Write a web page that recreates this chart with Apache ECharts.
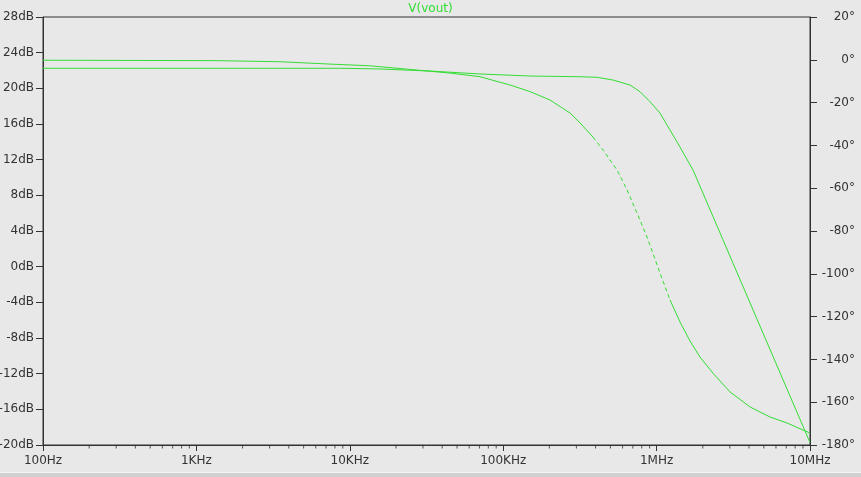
<!DOCTYPE html>
<html>
<head>
<meta charset="utf-8">
<script src="https://cdn.jsdelivr.net/npm/echarts@6/dist/echarts.min.js"></script>
<style>
html,body{margin:0;padding:0;background:#e8e8e8;}
#chart{width:861px;height:477px;}
#edge{position:absolute;left:0;top:472px;width:861px;height:5px;border-top:1px solid #f4f4f4;background:#d0d0d0;}
</style>
</head>
<body>
<div id="chart"></div>
<div id="edge"></div>
<script>
// ---- data ----
const freqMag = [100, 8630, 15700, 33400, 70600, 150000, 317000, 408000, 520000, 671000, 780000, 906000,
  1052000, 1222000, 1420000, 1727000, 2007000, 2332000, 2710000, 3148000, 3658000, 4250000, 4938000,
  5738000, 6668000, 7748000, 9003000, 10000000];
const magDb = [22.25, 22.25, 22.17, 21.94, 21.61, 21.38, 21.30, 21.24, 20.93, 20.37, 19.62, 18.50,
  17.23, 15.33, 13.42, 10.84, 8.23, 5.62, 3.00, 0.39, -2.22, -4.84, -7.45,
  -10.06, -12.68, -15.29, -17.90, -19.73];

const freqPhase = [100, 1360, 3510, 7430, 13500, 24700, 45000, 70600, 111000, 150000, 202000, 273000,
  317000, 385000, 448000, 552000, 642000, 745000, 866000, 1052000, 1223000, 1421000, 1651000, 1918000,
  2330000, 3010000, 4060000, 5480000, 7080000, 9000000, 10000000];
const phaseDeg = [-0.2, -0.4, -0.9, -2.0, -2.8, -4.5, -6.2, -7.9, -11.8, -14.9, -18.8, -24.9,
  -29.5, -36.1, -42.2, -51.5, -60.8, -71.6, -82.8, -99.6, -112.2, -122.5, -131.4, -138.9,
  -146.4, -155.2, -162.2, -166.9, -169.7, -173.0, -174.4];

const xTickLabels = ['100Hz', '1KHz', '10KHz', '100KHz', '1MHz', '10MHz'];
const minorTickFreqs = [];
[100, 1000, 10000, 100000, 1000000].forEach(function (d) {
  [2, 3, 4, 5, 6, 7, 8, 9].forEach(function (m) { minorTickFreqs.push(d * m); });
});
// phase drawn dashed between these frequencies (as in the reference)
const dashFrom = 385000, dashTo = 1223000;

// ---- chart ----
const green = '#33dd33';
const txt = '#333333';
const font = 'DejaVu Sans';

const phaseSolid = freqPhase.map(function (f, i) {
  return (f > dashFrom && f < dashTo) ? [f, '-'] : [f, phaseDeg[i]];
});
const phaseDashed = [];
freqPhase.forEach(function (f, i) {
  if (f >= dashFrom && f <= dashTo) phaseDashed.push([f, phaseDeg[i]]);
});

const chart = echarts.init(document.getElementById('chart'), null, {renderer: 'canvas'});
chart.setOption({
  backgroundColor: '#e8e8e8',
  animation: false,
  textStyle: {fontFamily: font},
  title: {
    text: 'V(vout)', left: 'center', top: -2,
    textStyle: {color: green, fontSize: 12, fontWeight: 'normal', fontFamily: font}
  },
  grid: {left: 43, right: 51, top: 17, bottom: 32, show: true, borderColor: '#333', borderWidth: 1,
    backgroundColor: 'transparent', containLabel: false, outerBoundsMode: 'none'},
  xAxis: {
    type: 'log', logBase: 10, min: 100, max: 10000000,
    axisLine: {show: true, onZero: false, lineStyle: {color: '#333', width: 1}},
    axisTick: {show: true, length: 6, inside: false, lineStyle: {color: '#333'}},
    axisLabel: {
      color: txt, fontSize: 12, fontFamily: font, margin: 10,
      formatter: function (v) { return xTickLabels[Math.round(Math.log10(v)) - 2]; }
    },
    splitLine: {show: false}
  },
  yAxis: [{
    type: 'value', min: -20, max: 28, interval: 4, position: 'left',
    axisLine: {show: true, lineStyle: {color: '#333'}},
    axisTick: {show: true, length: 7, lineStyle: {color: '#333'}},
    axisLabel: {color: txt, fontSize: 12, fontFamily: font, margin: 9, formatter: '{value}dB'},
    splitLine: {show: false}
  }, {
    type: 'value', min: -180, max: 20, interval: 20, position: 'right',
    axisLine: {show: true, lineStyle: {color: '#333'}},
    axisTick: {show: true, length: 7, lineStyle: {color: '#333'}},
    axisLabel: {color: txt, fontSize: 12, fontFamily: font, margin: 45, align: 'right', formatter: '{value}°'},
    splitLine: {show: false}
  }],
  series: [{
    name: 'minorTicks', type: 'scatter', xAxisIndex: 0, yAxisIndex: 0,
    data: minorTickFreqs.map(function (f) { return [f, -20]; }),
    symbol: 'rect', symbolSize: [1, 3], symbolOffset: [0, 2],
    itemStyle: {color: '#333'}, clip: false, silent: true, z: 1
  }, {
    name: 'mag', type: 'line', yAxisIndex: 0,
    data: freqMag.map(function (f, i) { return [f, magDb[i]]; }),
    showSymbol: false, smooth: false, lineStyle: {color: green, width: 1}, clip: false
  }, {
    name: 'phase', type: 'line', yAxisIndex: 1, data: phaseSolid, connectNulls: false,
    showSymbol: false, smooth: false, lineStyle: {color: green, width: 1}, clip: false
  }, {
    name: 'phaseDash', type: 'line', yAxisIndex: 1, data: phaseDashed,
    showSymbol: false, smooth: false, lineStyle: {color: green, width: 1, type: [4, 3]}, clip: false
  }]
});
</script>
</body>
</html>
